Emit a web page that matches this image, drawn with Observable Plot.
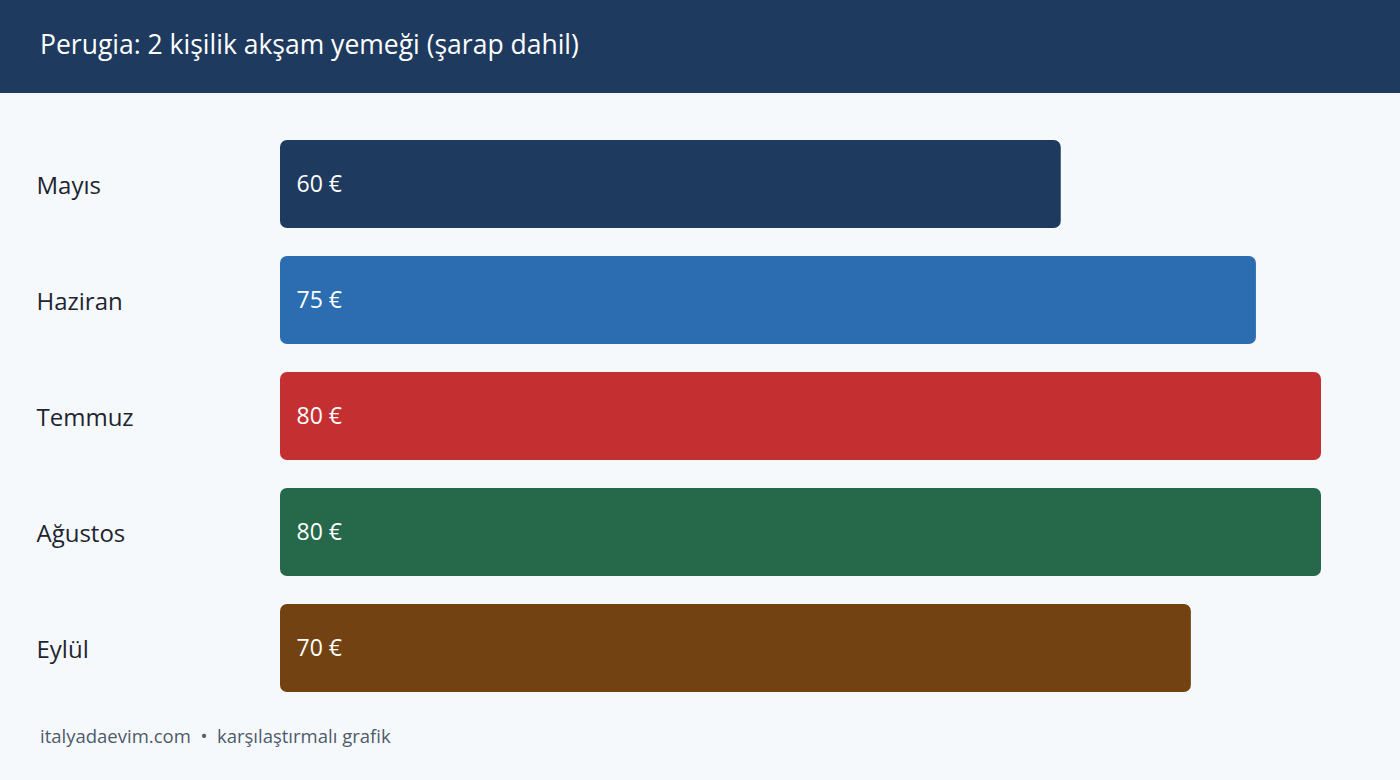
<!DOCTYPE html>
<html>
<head>
<meta charset="utf-8">
<script src="https://cdn.jsdelivr.net/npm/d3@7"></script>
<script src="https://cdn.jsdelivr.net/npm/@observablehq/plot@0.6"></script>
<style>
  html, body { margin: 0; padding: 0; background: #f5f9fc; width: 1400px; height: 780px; overflow: hidden; font-family: "Open Sans", "Noto Sans", sans-serif; }
  #header { height: 93px; background: #1f3a5f; color: #ffffff; font-size: 26.5px; box-sizing: border-box; padding-left: 40px; line-height: 88px; }
  #chart { height: 620px; }
  #footer { padding-left: 40px; color: #4f5a6a; font-size: 18.5px; line-height: 46px; }
</style>
</head>
<body>
<div id="header">Perugia: 2 kişilik akşam yemeği (şarap dahil)</div>
<div id="chart"></div>
<div id="footer">italyadaevim.com&nbsp; •&nbsp; karşılaştırmalı grafik</div>
<script>
const months = ["Mayıs", "Haziran", "Temmuz", "Ağustos", "Eylül"];
const prices = [60, 75, 80, 80, 70];
const colors = ["#1f3a5f", "#2c6db2", "#c43032", "#26684a", "#734212"];

const data = months.map((m, i) => ({month: m, value: prices[i], color: colors[i]}));

const chart = Plot.plot({
  width: 1400,
  height: 620,
  marginLeft: 280,
  marginRight: 79,
  marginTop: 33,
  marginBottom: 7,
  style: {background: "transparent", fontFamily: "'Open Sans', 'Noto Sans', sans-serif"},
  x: {domain: [0, 80], axis: null},
  y: {domain: months, axis: null, paddingInner: 0.2414, paddingOuter: 0.1207},
  marks: [
    Plot.barX(data, {y: "month", x: "value", fill: "color", rx: 7}),
    Plot.text(data, {y: "month", text: "month", frameAnchor: "left", dx: -244, textAnchor: "start", fill: "#1e2530", fontSize: 24, dy: 2}),
    Plot.text(data, {y: "month", text: d => d.value + " €", frameAnchor: "left", dx: 16, textAnchor: "start", fill: "#ffffff", fontSize: 23})
  ]
});
document.getElementById("chart").appendChild(chart);
</script>
</body>
</html>
